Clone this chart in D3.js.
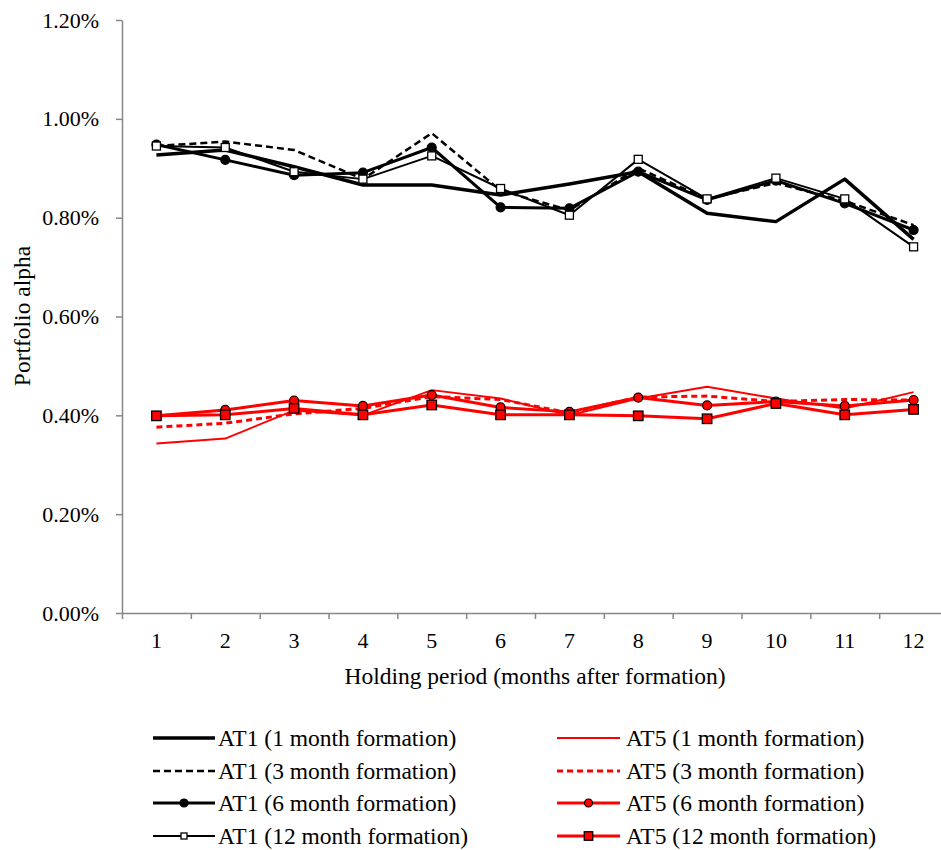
<!DOCTYPE html>
<html>
<head>
<meta charset="utf-8">
<script src="https://cdn.jsdelivr.net/npm/d3@7"></script>
<style>
  body { margin: 0; background: #fff; }
  svg { display: block; }
  text { font-family: "Liberation Serif", "Times New Roman", serif; fill: #000; }
</style>
</head>
<body>
<svg id="chart" width="941" height="850"></svg>
<script>
// ---- data ----
const months = [1, 2, 3, 4, 5, 6, 7, 8, 9, 10, 11, 12];
const yTicks = [0, 0.2, 0.4, 0.6, 0.8, 1.0, 1.2];

const at1_1m  = [0.927, 0.937, 0.903, 0.866, 0.866, 0.846, 0.868, 0.893, 0.809, 0.792, 0.878, 0.756];
const at1_3m  = [0.945, 0.954, 0.937, 0.878, 0.971, 0.855, 0.815, 0.900, 0.838, 0.870, 0.834, 0.785];
const at1_6m  = [0.948, 0.917, 0.886, 0.891, 0.942, 0.821, 0.819, 0.893, 0.836, 0.875, 0.829, 0.775];
const at1_12m = [0.945, 0.942, 0.893, 0.878, 0.925, 0.859, 0.805, 0.918, 0.838, 0.880, 0.838, 0.741];

const at5_1m  = [0.343, 0.353, 0.410, 0.400, 0.451, 0.434, 0.400, 0.434, 0.458, 0.434, 0.414, 0.447];
const at5_3m  = [0.376, 0.384, 0.403, 0.414, 0.438, 0.432, 0.405, 0.437, 0.439, 0.428, 0.432, 0.431];
const at5_6m  = [0.399, 0.411, 0.430, 0.419, 0.441, 0.416, 0.407, 0.436, 0.420, 0.428, 0.419, 0.431];
const at5_12m = [0.399, 0.401, 0.414, 0.401, 0.421, 0.401, 0.401, 0.399, 0.393, 0.424, 0.401, 0.412];

const seriesNames = [
  "AT1 (1 month formation)", "AT1 (3 month formation)", "AT1 (6 month formation)", "AT1 (12 month formation)",
  "AT5 (1 month formation)", "AT5 (3 month formation)", "AT5 (6 month formation)", "AT5 (12 month formation)"
];
const yTitle = "Portfolio alpha";
const xTitle = "Holding period (months after formation)";

// ---- styles ----
const styles = [
  { color: "#000", width: 3.5, dash: null,  marker: null },
  { color: "#000", width: 2.5, dash: "7,4", marker: null },
  { color: "#000", width: 3,   dash: null,  marker: "circle", fill: "#000" },
  { color: "#000", width: 2,   dash: null,  marker: "square", fill: "#fff" },
  { color: "#ff0000", width: 2,   dash: null,  marker: null },
  { color: "#ff0000", width: 3,   dash: "6,4", marker: null },
  { color: "#ff0000", width: 3,   dash: null,  marker: "circle", fill: "#ff0000" },
  { color: "#ff0000", width: 3,   dash: null,  marker: "square", fill: "#ff0000" }
];
const allSeries = [at1_1m, at1_3m, at1_6m, at1_12m, at5_1m, at5_3m, at5_6m, at5_12m];

const axisColor = "#878787";
const tickFont = "22px", titleFont = "23.5px";

const svg = d3.select("#chart");
const mLeft = 122, mRight = 948, mTop = 20, mBottom = 613;

const x = d3.scaleBand().domain(months).range([mLeft, mRight]);
const xEdge = d3.scaleLinear().domain([0, months.length]).range([mLeft, mRight]);
const y = d3.scaleLinear().domain([0, 1.2]).range([mBottom, mTop]);

// y axis
const yAxis = svg.append("g").attr("transform", `translate(${mLeft},0)`)
  .call(d3.axisLeft(y).tickValues(yTicks).tickSize(6).tickSizeOuter(0).tickPadding(17)
    .tickFormat(d => d.toFixed(2) + "%"));
yAxis.selectAll("path, line").attr("stroke", axisColor).attr("stroke-width", 1.5);
yAxis.selectAll("text").style("font-size", tickFont)
  .style("font-family", "'Liberation Serif', serif").attr("fill", "#000");

// x axis tick marks at band edges
const xTicksG = svg.append("g").attr("transform", `translate(0,${mBottom})`)
  .call(d3.axisBottom(xEdge).tickValues(d3.range(0, months.length + 1)).tickSize(6).tickSizeOuter(0).tickFormat(""));
xTicksG.selectAll("path, line").attr("stroke", axisColor).attr("stroke-width", 1.5);

// x axis labels at band centers
const xLab = svg.append("g").attr("transform", `translate(0,${mBottom})`)
  .call(d3.axisBottom(x).tickSize(0).tickPadding(19));
xLab.select("path").remove();
xLab.selectAll("text").style("font-size", tickFont)
  .style("font-family", "'Liberation Serif', serif").attr("fill", "#000");

// axis titles
svg.append("text").attr("transform", `translate(30,316) rotate(-90)`)
  .attr("text-anchor", "middle").style("font-size", titleFont).text(yTitle);
svg.append("text").attr("x", 535).attr("y", 684)
  .attr("text-anchor", "middle").style("font-size", titleFont).text(xTitle);

// lines
const line = d3.line().x((d, i) => x(months[i]) + x.bandwidth() / 2).y(d => y(d));
const plot = svg.append("g");

function drawMarker(g, type, cx, cy, st, size) {
  if (type === "circle") {
    g.append("circle").attr("cx", cx).attr("cy", cy).attr("r", size / 2)
      .attr("fill", st.fill).attr("stroke", "#000").attr("stroke-width", 1.2);
  } else if (type === "square") {
    g.append("rect").attr("x", cx - size / 2).attr("y", cy - size / 2)
      .attr("width", size).attr("height", size)
      .attr("fill", st.fill).attr("stroke", "#000").attr("stroke-width", 1.3);
  }
}

allSeries.forEach((vals, si) => {
  const st = styles[si];
  const g = plot.append("g");
  g.append("path").attr("d", line(vals)).attr("fill", "none")
    .attr("stroke", st.color).attr("stroke-width", st.width)
    .attr("stroke-dasharray", st.dash).attr("stroke-linejoin", "round");
  if (st.marker) {
    const size = st.marker === "circle" ? 9 : (si === 3 ? 8 : 9.5);
    vals.forEach((v, i) => drawMarker(g, st.marker, x(months[i]) + x.bandwidth() / 2, y(v), st, size));
  }
});

// legend
const legCols = [{ x0: 153, x1: 215, tx: 218 }, { x0: 557, x1: 620, tx: 626 }];
const legRows = [738, 771, 803, 836];
seriesNames.forEach((name, si) => {
  const col = legCols[Math.floor(si / 4)];
  const ry = legRows[si % 4];
  const st = styles[si];
  const g = svg.append("g");
  g.append("line").attr("x1", col.x0).attr("x2", col.x1).attr("y1", ry).attr("y2", ry)
    .attr("stroke", st.color).attr("stroke-width", st.width).attr("stroke-dasharray", st.dash);
  if (st.marker) {
    const size = st.marker === "circle" ? 8 : (si === 3 ? 6 : 8.5);
    drawMarker(g, st.marker, (col.x0 + col.x1) / 2, ry, st, size);
  }
  g.append("text").attr("x", col.tx).attr("y", ry + 7.5)
    .style("font-size", titleFont).text(name);
});
</script>
</body>
</html>
